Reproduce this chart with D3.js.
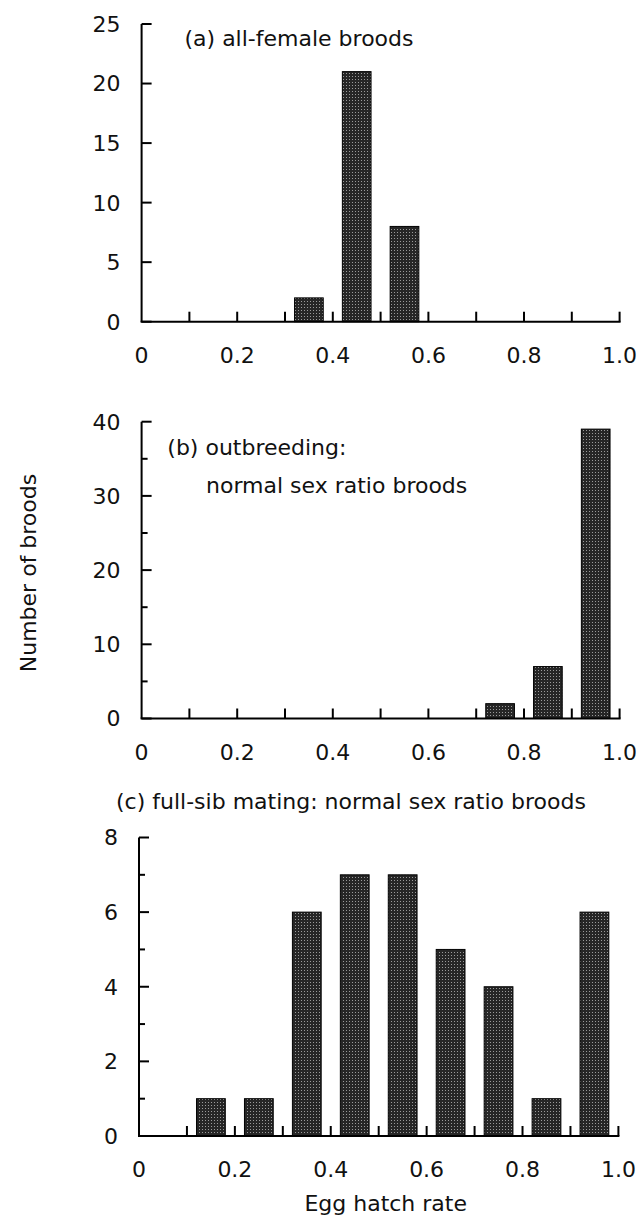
<!DOCTYPE html>
<html>
<head>
<meta charset="utf-8">
<script src="https://cdnjs.cloudflare.com/ajax/libs/d3/7.8.5/d3.min.js"></script>
<style>
  body { margin: 0; background: #fff; }
  svg text { font-family: "DejaVu Sans", sans-serif; fill: #111; }
</style>
</head>
<body>
<div id="chart"></div>
<script>
// histogram bins (left edge of each 0.1 wide bin)
const binStarts = [0, 0.1, 0.2, 0.3, 0.4, 0.5, 0.6, 0.7, 0.8, 0.9];
const allFemaleCounts   = [0, 0, 0, 2, 21, 8, 0, 0, 0, 0];
const outbreedingCounts = [0, 0, 0, 0, 0, 0, 0, 2, 7, 39];
const fullSibCounts     = [0, 1, 1, 6, 7, 7, 5, 4, 1, 6];

const xTickValues = [0, 0.2, 0.4, 0.6, 0.8, 1.0];
const xTickLabels = ["0", "0.2", "0.4", "0.6", "0.8", "1.0"];
const yTicksA = [0, 5, 10, 15, 20, 25];
const yTicksB = [0, 10, 20, 30, 40];
const yMinorB = [5, 15, 25, 35];
const yTicksC = [0, 2, 4, 6, 8];
const yMinorC = [1, 3, 5, 7];

const width = 639;
const height = 1226;
const fs = 22;

const svg = d3.select("#chart")
    .append("svg")
    .attr("width", width)
    .attr("height", height);

// stippled dark fill like the printed bars
const pat = svg.append("defs").append("pattern")
    .attr("id", "stipple")
    .attr("width", 3).attr("height", 3)
    .attr("patternUnits", "userSpaceOnUse");
pat.append("rect").attr("width", 3).attr("height", 3).attr("fill", "#262626");
pat.append("rect").attr("x", 1).attr("y", 1).attr("width", 1).attr("height", 1).attr("fill", "#9a9a9a");

const panels = [
    { counts: allFemaleCounts, left: 141.6, right: 619.6, top: 24, bottom: 321.7,
      yMax: 25, ticks: yTicksA, minor: [] },
    { counts: outbreedingCounts, left: 141.6, right: 619.6, top: 421.7, bottom: 718.5,
      yMax: 40, ticks: yTicksB, minor: yMinorB },
    { counts: fullSibCounts, left: 139, right: 618.4, top: 837.5, bottom: 1136,
      yMax: 8, ticks: yTicksC, minor: yMinorC }
];

panels.forEach(p => {
    const x = d3.scaleLinear().domain([0, 1]).range([p.left, p.right]);
    const y = d3.scaleLinear().domain([0, p.yMax]).range([p.bottom, p.top]);
    const g = svg.append("g");

    // bars: 60% of bin width, centred in the bin
    const binW = x(0.1) - x(0);
    g.selectAll("rect.bar")
        .data(binStarts.map((b, i) => ({ start: b, n: p.counts[i] })).filter(d => d.n > 0))
        .enter().append("rect")
        .attr("class", "bar")
        .attr("x", d => x(d.start) + binW * 0.2)
        .attr("width", binW * 0.6)
        .attr("y", d => y(d.n))
        .attr("height", d => y(0) - y(d.n))
        .attr("fill", "url(#stipple)")
        .attr("stroke", "#000")
        .attr("stroke-width", 1);

    // axes lines
    g.append("line")
        .attr("x1", p.left).attr("x2", p.left)
        .attr("y1", p.top).attr("y2", p.bottom)
        .attr("stroke", "#000").attr("stroke-width", 2);
    g.append("line")
        .attr("x1", p.left - 1).attr("x2", p.right + 1)
        .attr("y1", p.bottom).attr("y2", p.bottom)
        .attr("stroke", "#000").attr("stroke-width", 2);

    // y ticks (inward)
    g.selectAll("line.ymaj").data(p.ticks).enter().append("line")
        .attr("x1", p.left).attr("x2", p.left + 10)
        .attr("y1", d => y(d)).attr("y2", d => y(d))
        .attr("stroke", "#000").attr("stroke-width", 2);
    g.selectAll("line.ymin").data(p.minor).enter().append("line")
        .attr("x1", p.left).attr("x2", p.left + 6)
        .attr("y1", d => y(d)).attr("y2", d => y(d))
        .attr("stroke", "#000").attr("stroke-width", 2);
    g.selectAll("text.ylab").data(p.ticks).enter().append("text")
        .attr("x", p.left - 21)
        .attr("y", d => y(d))
        .attr("dy", "0.36em")
        .attr("text-anchor", "end")
        .attr("font-size", fs)
        .text(d => d);

    // x ticks every 0.1, inward
    g.selectAll("line.xt").data(d3.range(1, 11).map(i => i / 10)).enter().append("line")
        .attr("x1", d => x(d)).attr("x2", d => x(d))
        .attr("y1", p.bottom).attr("y2", p.bottom - 10)
        .attr("stroke", "#000").attr("stroke-width", 2);
    g.selectAll("text.xlab").data(xTickValues).enter().append("text")
        .attr("x", d => x(d))
        .attr("y", p.bottom + 41)
        .attr("text-anchor", "middle")
        .attr("font-size", fs)
        .text((d, i) => xTickLabels[i]);
});

// panel titles
svg.append("text").attr("x", 184.5).attr("y", 46).attr("font-size", fs)
    .text("(a) all-female broods");
svg.append("text").attr("x", 167.3).attr("y", 455).attr("font-size", fs)
    .text("(b) outbreeding:");
svg.append("text").attr("x", 206).attr("y", 493).attr("font-size", fs)
    .text("normal sex ratio broods");
svg.append("text").attr("x", 116).attr("y", 809).attr("font-size", fs)
    .text("(c) full-sib mating: normal sex ratio broods");

// axis titles
svg.append("text")
    .attr("transform", "translate(36,573) rotate(-90)")
    .attr("text-anchor", "middle")
    .attr("font-size", fs)
    .text("Number of broods");
svg.append("text")
    .attr("x", 385.7).attr("y", 1211)
    .attr("text-anchor", "middle")
    .attr("font-size", fs)
    .text("Egg hatch rate");
</script>
</body>
</html>
